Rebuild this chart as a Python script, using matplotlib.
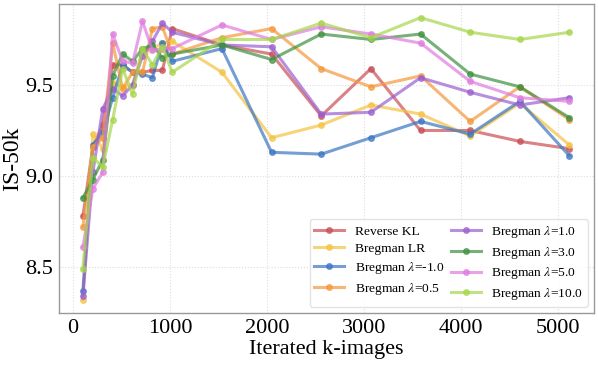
import matplotlib
matplotlib.use("Agg")
import matplotlib.pyplot as plt

plt.rcParams['font.family'] = ['Liberation Serif', 'DejaVu Serif']
plt.rcParams['mathtext.fontset'] = 'stix'

# iterated k-images
steps = [102.4, 204.8, 307.2, 409.6, 512, 614.4, 716.8, 819.2, 921.6, 1024,
         1536, 2048, 2560, 3072, 3584, 4096, 4608, 5120]

reverse_kl = [8.78, 9.16, 9.28, 9.61, 9.61, 9.57, 9.57, 9.58, 9.58, 9.81,
              9.72, 9.67, 9.33, 9.59, 9.25, 9.25, 9.19, 9.15]
bregman_lr = [8.32, 9.23, 9.15, 9.51, 9.49, 9.50, 9.69, 9.70, 9.73, 9.74,
              9.57, 9.21, 9.28, 9.39, 9.34, 9.22, 9.40, 9.17]
bregman_m1 = [8.37, 9.17, 9.24, 9.43, 9.61, 9.57, 9.56, 9.54, 9.73, 9.63,
              9.70, 9.13, 9.12, 9.21, 9.30, 9.23, 9.41, 9.11]
bregman_05 = [8.72, 9.16, 9.21, 9.73, 9.48, 9.57, 9.57, 9.81, 9.82, 9.67,
              9.76, 9.81, 9.59, 9.49, 9.55, 9.30, 9.49, 9.31]
bregman_1 = [8.34, 9.02, 9.37, 9.48, 9.44, 9.50, 9.66, 9.74, 9.84, 9.79,
             9.72, 9.71, 9.34, 9.35, 9.54, 9.46, 9.39, 9.43]
bregman_3 = [8.88, 8.98, 9.09, 9.55, 9.67, 9.63, 9.70, 9.72, 9.65, 9.67,
             9.72, 9.64, 9.78, 9.75, 9.78, 9.56, 9.49, 9.32]
bregman_5 = [8.61, 8.93, 9.02, 9.78, 9.63, 9.62, 9.85, 9.69, 9.70, 9.70,
             9.83, 9.75, 9.82, 9.78, 9.73, 9.52, 9.43, 9.41]
bregman_10 = [8.49, 9.10, 9.05, 9.31, 9.59, 9.45, 9.70, 9.61, 9.71, 9.57,
              9.75, 9.75, 9.84, 9.76, 9.87, 9.79, 9.75, 9.79]

labels = ['Reverse KL', 'Bregman LR', r'Bregman $\lambda$=-1.0', r'Bregman $\lambda$=0.5',
          r'Bregman $\lambda$=1.0', r'Bregman $\lambda$=3.0', r'Bregman $\lambda$=5.0',
          r'Bregman $\lambda$=10.0']
series = [reverse_kl, bregman_lr, bregman_m1, bregman_05,
          bregman_1, bregman_3, bregman_5, bregman_10]
colors = ['#c94e55', '#f5c242', '#3a75c4', '#f5983b',
          '#9b5fd0', '#3d9140', '#e07be0', '#a6d64a']

fig = plt.figure(figsize=(5.98, 3.65), dpi=100)
ax = fig.add_axes([0.0987, 0.1425, 0.8943, 0.8465])

for ys, lab, c in zip(series, labels, colors):
    ax.plot(steps, ys, color=c, alpha=0.7, linewidth=2.2, marker='o',
            markersize=4, label=lab)

ax.set_xlim(-144, 5371)
ax.set_ylim(8.247, 9.945)
ax.set_xticks([0, 1000, 2000, 3000, 4000, 5000])
ax.set_yticks([8.5, 9.0, 9.5])
ax.tick_params(labelsize=16, length=0, pad=4)
ax.grid(True, linestyle=':', color='#dddddd', linewidth=0.8)
for s in ax.spines.values():
    s.set_color('#999999')
    s.set_linewidth(1.0)

ax.set_xlabel('Iterated k-images', fontsize=16, labelpad=2)
ax.set_ylabel('IS-50k', fontsize=17, labelpad=2)

leg = ax.legend(loc='lower right', ncol=2, fontsize=9.7, frameon=True,
                fancybox=True, edgecolor='#dddddd', handlelength=2.2,
                columnspacing=0.5, labelspacing=0.35, borderpad=0.35,
                borderaxespad=0.45)
# keep each legend column left aligned
for col in leg._legend_handle_box.get_children():
    col.align = 'left'

fig.savefig('out.png', dpi=100)
